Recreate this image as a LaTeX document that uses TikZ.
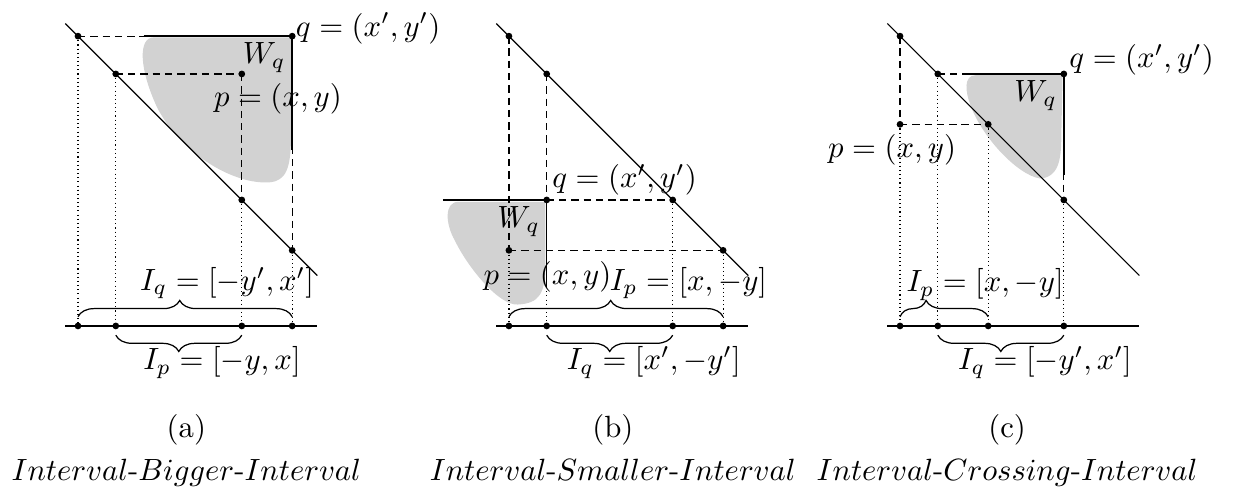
\documentclass[tikz,border=0pt]{standalone}
\usepackage{amsmath,amssymb}
\usetikzlibrary{decorations.pathreplacing}
\newdimen\unitsize
\setlength{\unitsize}{4.1pt}

\begin{document}
\begin{tikzpicture}[x=\unitsize,y=\unitsize,baseline=0]
\tikzset{guide/.style={dash pattern=on 2.4pt off 1.6pt}}%
\tikzset{drop/.style={dash pattern=on 0.35pt off 1pt}}%
\tikzset{wedge/.style={line width=0.5pt}}%
\tikzset{axis/.style={line width=0.6pt}}%
\tikzset{region/.style={fill=gray!35}}%
\tikzset{topbrace/.style={decorate,decoration={brace,amplitude=5.3pt,raise=3pt,aspect=#1}},topbrace/.default=0.5}%
\tikzset{lowbrace/.style={decorate,decoration={brace,mirror,amplitude=5.3pt,raise=3pt}}}%
\useasboundingbox (-6.19,-12.78) rectangle (92.7,25.87);
%% (a)
\coordinate (al) at (-1,24);
\coordinate (ar) at (19,4);
\coordinate (ad1) at (0,23);
\coordinate (ad2) at (3,20);
\coordinate (ad3) at (13,10);
\coordinate (ad4) at (17,6);
\coordinate (aq) at (17,23);
\coordinate (ap) at (13,20);
\coordinate (aw1) at (5.2,23);
\coordinate (aw2) at (17,14);
\coordinate (ax0) at (-1,0);
\coordinate (ax1) at (0,0);
\coordinate (ax2) at (3,0);
\coordinate (ax3) at (13,0);
\coordinate (ax4) at (17,0);
\coordinate (ax5) at (19,0);
\fill[region] (16.9,22.9) -- (6,22.9) .. controls (4.8,22.9) and (4.8,20.5) .. (6.3,17.3)
  .. controls (8.3,13.5) and (12.5,11.2) .. (15.2,11.4)
  .. controls (16.5,11.5) and (16.9,12.5) .. (16.9,15) -- cycle;
\draw[guide] (ad1) -- (aq);
\draw[guide] (ad2) -- (ap);
\draw[guide] (ap) -- (ad3);
\draw[guide] (aq) -- (ad4);
\draw[drop] (ad1) -- (ax1);
\draw[drop] (ad2) -- (ax2);
\draw[drop] (ad3) -- (ax3);
\draw[drop] (ad4) -- (ax4);
\draw (al) -- (ar);
\draw[axis] (ax0) -- (ax5);
\draw[wedge] (aw1) -- (aq) -- (aw2);
\fill (ad1) circle (1.1pt) (ad2) circle (1.1pt) (ad3) circle (1.1pt) (ad4) circle (1.1pt)
  (aq) circle (1.1pt) (ap) circle (1.1pt)
  (ax1) circle (1.1pt) (ax2) circle (1.1pt) (ax3) circle (1.1pt) (ax4) circle (1.1pt);
\draw[topbrace=0.475] (ax1) -- (ax4);
\draw[lowbrace] (ax2) -- (ax3);
\node[anchor=base west,inner sep=0pt] (aqtext) at (17.25,23) {$q=(x',y')$};
\node[anchor=north east,inner sep=2pt] (awtext) at (aq) {$W_q$};
\node (aptext) at (15.87,18) {$p=(x,y)$};
\node (aiq) at (11.83,3.4) {$I_q=[-y',x']$};
\node (aip) at (11.43,-2.9) {$I_p=[-y,x]$};
\node[anchor=base] (acap) at (8.6,-8.85) {(a)};
\node[anchor=base] (aname) at (8.6,-12.3) {$Interval$-$Bigger$-$Interval$};
%% (b)
\begin{scope}[shift={(34.2,0)}]
\coordinate (bl) at (-1,24);
\coordinate (br) at (19,4);
\coordinate (bd1) at (0,23);
\coordinate (bd2) at (3,20);
\coordinate (bd3) at (13,10);
\coordinate (bd4) at (17,6);
\coordinate (bq) at (3,10);
\coordinate (bp) at (0,6);
\coordinate (bw1) at (-5.24,10);
\coordinate (bw2) at (3,3);
\coordinate (bx0) at (-1,0);
\coordinate (bx1) at (0,0);
\coordinate (bx2) at (3,0);
\coordinate (bx3) at (13,0);
\coordinate (bx4) at (17,0);
\coordinate (bx5) at (19,0);
\fill[region] (2.9,9.85) -- (-4,9.85) .. controls (-5.2,9.85) and (-5,8) .. (-4.3,6.8)
  .. controls (-3.3,4.7) and (-0.8,1.6) .. (0.7,1.7)
  .. controls (2.4,1.8) and (2.9,2.5) .. (2.9,5) -- cycle;
\draw[guide] (bd1) -- (bp);
\draw[guide] (bd2) -- (bq);
\draw[guide] (bq) -- (bd3);
\draw[guide] (bp) -- (bd4);
\draw[drop] (bp) -- (bx1);
\draw[drop] (bq) -- (bx2);
\draw[drop] (bd3) -- (bx3);
\draw[drop] (bd4) -- (bx4);
\draw (bl) -- (br);
\draw[axis] (bx0) -- (bx5);
\draw[wedge] (bw1) -- (bq) -- (bw2);
\fill (bd1) circle (1.1pt) (bd2) circle (1.1pt) (bd3) circle (1.1pt) (bd4) circle (1.1pt)
  (bq) circle (1.1pt) (bp) circle (1.1pt)
  (bx1) circle (1.1pt) (bx2) circle (1.1pt) (bx3) circle (1.1pt) (bx4) circle (1.1pt);
\draw[topbrace=0.475] (bx1) -- (bx4);
\draw[lowbrace] (bx2) -- (bx3);
\node[anchor=base west,inner sep=0pt] (bqtext) at (3.4,11) {$q=(x',y')$};
\node[anchor=north east,inner sep=2pt] (bwtext) at (bq) {$W_q$};
\node (bptext) at (3.06,3.9) {$p=(x,y)$};
\node (bip) at (14.25,3.4) {$I_p=[x,-y]$};
\node (biq) at (11.5,-2.9) {$I_q=[x',-y']$};
\node[anchor=base] (bcap) at (8.25,-8.85) {(b)};
\node[anchor=base] (bname) at (8.25,-12.3) {$Interval$-$Smaller$-$Interval$};
\end{scope}
%% (c)
\begin{scope}[shift={(65.24,0)}]
\coordinate (cl) at (-1,24);
\coordinate (cr) at (19,4);
\coordinate (cd1) at (0,23);
\coordinate (cd2) at (3,20);
\coordinate (cd3) at (7,16);
\coordinate (cd4) at (13,10);
\coordinate (cq) at (13,20);
\coordinate (cp) at (0,16);
\coordinate (cw1) at (5.2,20);
\coordinate (cw2) at (13,12);
\coordinate (cx0) at (-1,0);
\coordinate (cx1) at (0,0);
\coordinate (cx2) at (3,0);
\coordinate (cx3) at (7,0);
\coordinate (cx4) at (13,0);
\coordinate (cx5) at (19,0);
\fill[region] (12.9,19.9) -- (6,19.9) .. controls (5,19.9) and (5.2,18.5) .. (5.6,17.5)
  .. controls (6.5,15) and (9.3,12) .. (11.1,11.7)
  .. controls (12.5,11.8) and (12.8,13) .. (12.8,15) -- cycle;
\draw[guide] (cd1) -- (cp);
\draw[guide] (cp) -- (cd3);
\draw[guide] (cd2) -- (cq);
\draw[guide] (cq) -- (cd4);
\draw[drop] (cp) -- (cx1);
\draw[drop] (cd2) -- (cx2);
\draw[drop] (cd3) -- (cx3);
\draw[drop] (cd4) -- (cx4);
\draw (cl) -- (cr);
\draw[axis] (cx0) -- (cx5);
\draw[wedge] (cw1) -- (cq) -- (cw2);
\fill (cd1) circle (1.1pt) (cd2) circle (1.1pt) (cd3) circle (1.1pt) (cd4) circle (1.1pt)
  (cq) circle (1.1pt) (cp) circle (1.1pt)
  (cx1) circle (1.1pt) (cx2) circle (1.1pt) (cx3) circle (1.1pt) (cx4) circle (1.1pt);
\draw[topbrace=0.295] (cx1) -- (cx3);
\draw[lowbrace] (cx2) -- (cx4);
\node[anchor=base west,inner sep=0pt] (cqtext) at (13.4,20.5) {$q=(x',y')$};
\node[anchor=north east,inner sep=2pt] (cwtext) at (cq) {$W_q$};
\node (cptext) at (-0.63,13.97) {$p=(x,y)$};
\node (cip) at (6.75,3.3) {$I_p=[x,-y]$};
\node (ciq) at (11.5,-2.9) {$I_q=[-y',x']$};
\node[anchor=base] (ccap) at (8.5,-8.85) {(c)};
\node[anchor=base] (cname) at (8.5,-12.3) {$Interval$-$Crossing$-$Interval$};
\end{scope}
\end{tikzpicture}
\end{document}
